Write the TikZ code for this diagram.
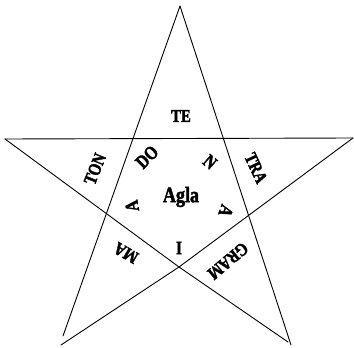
\documentclass[tikz,border=0pt]{standalone}
\usepackage{fontspec}
\setmainfont{Liberation Serif}
\newfontfamily\heavy[FakeBold=2,FakeStretch=0.82]{Liberation Serif Bold}
\tikzset{
  edge/.style={line width=0.9pt, line cap=round, line join=round},
  lbl/.style={font=\heavy\fontsize{18}{18}\selectfont, inner sep=0pt},
  inlbl/.style={font=\heavy\fontsize{19}{19}\selectfont, inner sep=0pt},
  ctr/.style={font=\heavy\fontsize{22}{22}\selectfont, inner sep=0pt}
}
\begin{document}
\begin{tikzpicture}[x=1pt,y=-1pt]
\useasboundingbox (0,0) rectangle (354,348);
% star points
\coordinate (T) at (180,6);
\coordinate (L) at (5,139);
\coordinate (R) at (353,138);
\coordinate (BLa) at (63,336);
\coordinate (BLb) at (61,345);
\coordinate (BRa) at (291,345);
\coordinate (BRb) at (288,342);
\coordinate (X) at (179,267);
\draw[edge] (T) -- (BLa);
\draw[edge] (T) -- (BRa);
\draw[edge] (L) -- (R);
\draw[edge] (L) -- (X) -- (BRb);
\draw[edge] (R) -- (X) -- (BLb);
% outer labels
\node[lbl] (te) at (181,116) {TE};
\node[lbl, rotate=-65] (tra) at (256,168) {TRA};
\node[lbl, rotate=-140] (gram) at (228,261) {GRAM};
\node[lbl, rotate=150] (ma) at (126,253) {MA};
\node[lbl, rotate=68] (ton) at (95,169) {TON};
% inner labels
\node[inlbl, rotate=45] (do) at (147,157) {DO};
\node[inlbl, rotate=-40] (n) at (210,162) {N};
\node[inlbl, rotate=-110] (a2) at (226,211) {A};
\node[inlbl, rotate=180] (i) at (179,248) {I};
\node[inlbl, rotate=100] (a1) at (132,206) {A};
\node[ctr] (agla) at (181,197) {Agla};
\end{tikzpicture}
\end{document}
